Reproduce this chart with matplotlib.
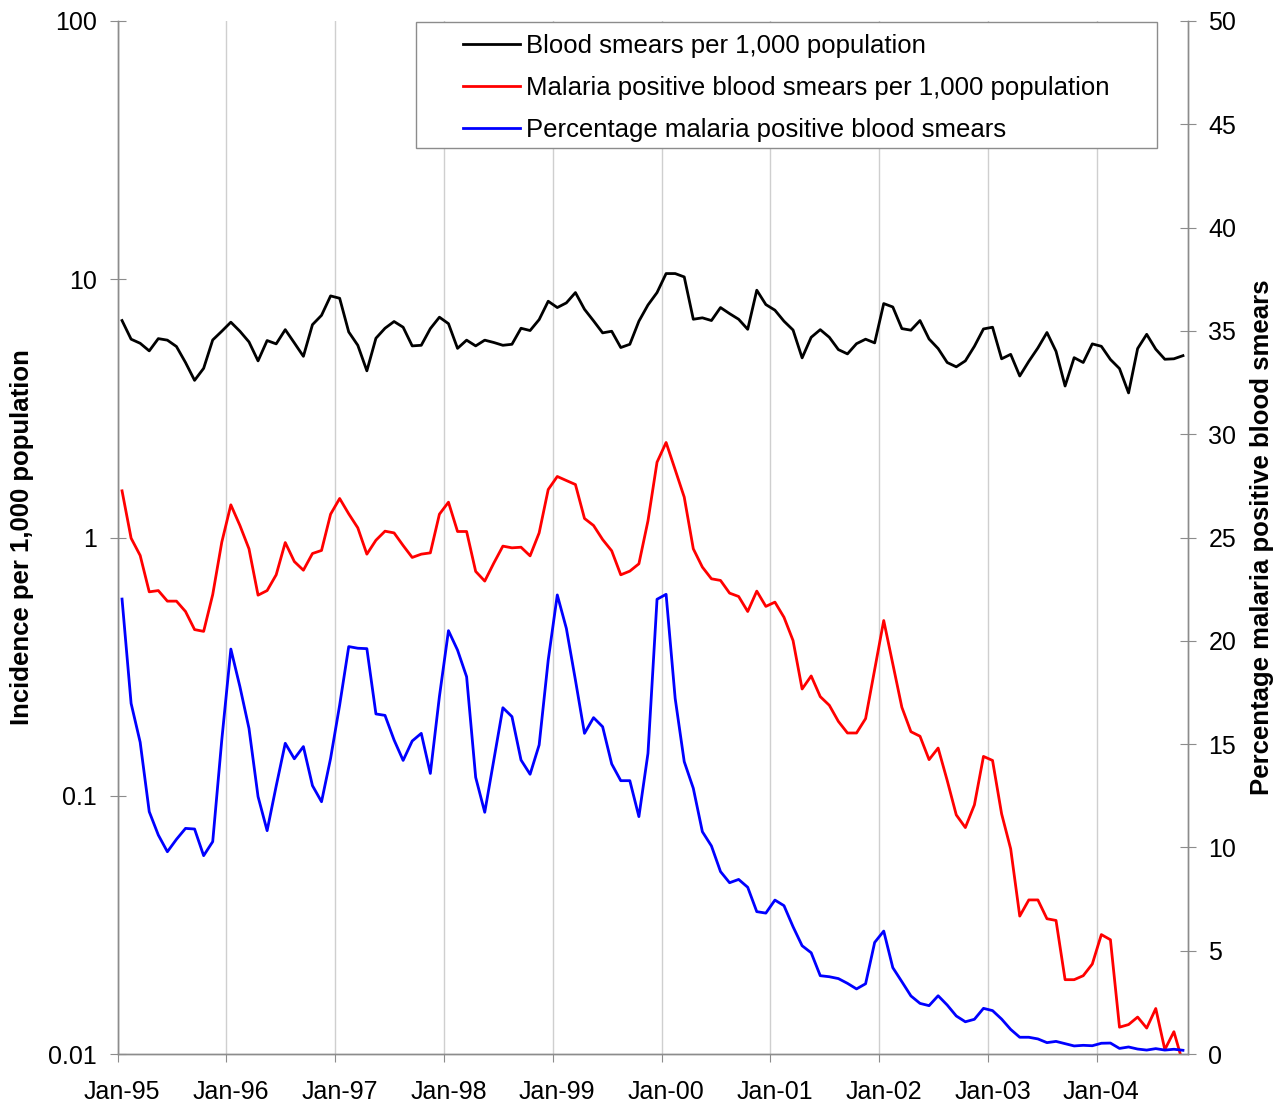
import matplotlib
matplotlib.use("Agg")
import matplotlib.pyplot as plt
import numpy as np
from matplotlib.patches import Rectangle
from matplotlib.ticker import FixedLocator, FixedFormatter, NullLocator

plt.rcParams["font.family"] = ["Liberation Sans", "DejaVu Sans"]

# monthly series, Jan-95 .. Oct-04
smears = [
    6.92, 5.86, 5.65, 5.28, 5.89, 5.81, 5.49, 4.76, 4.06, 4.52, 5.82, 6.29,
    6.82, 6.29, 5.72, 4.83, 5.79, 5.62, 6.38, 5.67, 5.03, 6.67, 7.25, 8.62,
    8.44, 6.25, 5.55, 4.42, 5.91, 6.46, 6.86, 6.52, 5.52, 5.55, 6.44, 7.13,
    6.73, 5.40, 5.81, 5.52, 5.81, 5.69, 5.55, 5.60, 6.46, 6.33, 6.98, 8.22,
    7.77, 8.10, 8.88, 7.65, 6.90, 6.20, 6.29, 5.44, 5.60, 6.88, 7.95, 8.88,
    10.52, 10.52, 10.21, 7.00, 7.09, 6.92, 7.77, 7.36, 7.00, 6.40, 9.07, 7.98,
    7.59, 6.88, 6.36, 4.96, 5.96, 6.38, 5.96, 5.34, 5.14, 5.63, 5.86, 5.67,
    8.05, 7.81, 6.44, 6.35, 6.92, 5.87, 5.39, 4.76, 4.58, 4.83, 5.50, 6.42,
    6.52, 4.92, 5.12, 4.22, 4.81, 5.42, 6.22, 5.26, 3.86, 4.97, 4.76, 5.62,
    5.50, 4.89, 4.51, 3.63, 5.39, 6.12, 5.36, 4.90, 4.92, 5.06,
]
positive = [
    1.516, 0.994, 0.852, 0.616, 0.623, 0.567, 0.567, 0.517, 0.440, 0.433, 0.601, 0.959,
    1.338, 1.113, 0.904, 0.598, 0.623, 0.717, 0.956, 0.807, 0.747, 0.867, 0.891, 1.231,
    1.416, 1.235, 1.090, 0.862, 0.976, 1.058, 1.042, 0.931, 0.837, 0.862, 0.872, 1.231,
    1.370, 1.055, 1.055, 0.739, 0.678, 0.796, 0.926, 0.912, 0.917, 0.849, 1.042, 1.534,
    1.723, 1.662, 1.604, 1.185, 1.113, 0.982, 0.888, 0.717, 0.741, 0.791, 1.16, 1.957,
    2.333, 1.83, 1.433, 0.904, 0.768, 0.692, 0.682, 0.609, 0.591, 0.517, 0.620, 0.541,
    0.562, 0.491, 0.399, 0.259, 0.291, 0.242, 0.224, 0.194, 0.175, 0.175, 0.199, 0.308,
    0.477, 0.324, 0.220, 0.177, 0.170, 0.138, 0.153, 0.1146, 0.0843, 0.0753, 0.0922, 0.142,
    0.137, 0.0851, 0.0623, 0.0342, 0.0395, 0.0395, 0.0334, 0.0329, 0.0194, 0.0194, 0.0201, 0.0223,
    0.0290, 0.0277, 0.0127, 0.0130, 0.0139, 0.0126, 0.0150, 0.0104, 0.0122, 0.0092,
]
percent = [
    22.02, 16.97, 15.09, 11.73, 10.60, 9.79, 10.39, 10.92, 10.89, 9.60, 10.28, 15.20,
    19.60, 17.78, 15.76, 12.46, 10.81, 12.97, 15.04, 14.29, 14.88, 12.99, 12.21, 14.31,
    16.89, 19.72, 19.64, 19.62, 16.46, 16.39, 15.20, 14.21, 15.15, 15.52, 13.58, 17.30,
    20.49, 19.55, 18.26, 13.39, 11.70, 14.23, 16.76, 16.33, 14.23, 13.54, 14.96, 19.07,
    22.22, 20.60, 18.10, 15.52, 16.28, 15.84, 14.04, 13.23, 13.23, 11.49, 14.55, 22.01,
    22.25, 17.21, 14.15, 12.86, 10.76, 10.07, 8.83, 8.29, 8.45, 8.07, 6.89, 6.82,
    7.45, 7.18, 6.16, 5.24, 4.90, 3.79, 3.74, 3.65, 3.42, 3.15, 3.40, 5.40,
    5.95, 4.18, 3.50, 2.81, 2.45, 2.34, 2.82, 2.37, 1.84, 1.56, 1.68, 2.21,
    2.10, 1.69, 1.19, 0.81, 0.81, 0.73, 0.55, 0.61, 0.50, 0.39, 0.42, 0.40,
    0.52, 0.53, 0.27, 0.34, 0.24, 0.19, 0.26, 0.19, 0.23, 0.18,
]
year_labels = ["Jan-95", "Jan-96", "Jan-97", "Jan-98", "Jan-99",
               "Jan-00", "Jan-01", "Jan-02", "Jan-03", "Jan-04"]
left_ticks = [0.01, 0.1, 1, 10, 100]
left_labels = ["0.01", "0.1", "1", "10", "100"]
right_ticks = list(range(0, 55, 5))

labels = [
    "Blood smears per 1,000 population",
    "Malaria positive blood smears per 1,000 population",
    "Percentage malaria positive blood smears",
]

W, H = 1276, 1103
axis_grey = "#8c8c8c"
grid_grey = "#cfcfcf"

n = len(smears)
x = np.arange(n) + 0.5  # points sit in the middle of each month

fig = plt.figure(figsize=(W / 100, H / 100), dpi=100)
ax = fig.add_axes([117.5 / W, 1 - 1054 / H, (1187.5 - 117.5) / W, (1054 - 21) / H])
ax2 = ax.twinx()

l1, = ax.plot(x, smears, color="black", lw=2.0)
l2, = ax.plot(x, positive, color="#ff0000", lw=2.0)
l3, = ax2.plot(x, percent, color="#0000ff", lw=2.0)

ax.set_yscale("log")
ax.set_ylim(0.01, 100)
ax.set_xlim(0, n)
ax2.set_ylim(0, 50)

# year gridlines + ticks at boundaries, labels centred on the January point
years = np.arange(len(year_labels)) * 12
ax.xaxis.set_major_locator(FixedLocator(years))
ax.xaxis.set_major_formatter(FixedFormatter([""] * len(years)))
ax.xaxis.set_minor_locator(FixedLocator(years + 0.5))
ax.xaxis.set_minor_formatter(FixedFormatter(year_labels))
ax.grid(True, axis="x", which="major", color=grid_grey, lw=1.0)
ax.tick_params(axis="x", which="major", direction="out", length=6, width=0.8,
               color=axis_grey)
ax.tick_params(axis="x", which="minor", length=0, pad=19, labelsize=18)

ax.yaxis.set_major_locator(FixedLocator(left_ticks))
ax.yaxis.set_major_formatter(FixedFormatter(left_labels))
ax.yaxis.set_minor_locator(NullLocator())
ax.tick_params(axis="y", direction="inout", length=11, width=0.8,
               color=axis_grey, labelsize=18, pad=9.5)

ax2.set_yticks(right_ticks)
ax2.tick_params(axis="y", direction="inout", length=11, width=0.8,
                color=axis_grey, labelsize=18, pad=9.5)

for a in (ax, ax2):
    a.spines["top"].set_visible(False)
    for s in ("left", "right", "bottom"):
        a.spines[s].set_color(axis_grey)
        a.spines[s].set_linewidth(1.0)

ax.set_ylabel("Incidence per 1,000 population", fontsize=18.5, fontweight="bold")
ax.yaxis.set_label_coords(-0.078, 0.5)
ax2.set_ylabel("Percentage malaria positive blood smears", fontsize=18.5,
               fontweight="bold", rotation=90)
ax2.yaxis.set_label_coords(1.058, 0.5)

# legend box: white filled frame drawn separately, legend without its own frame
frame = Rectangle((416 / W, 1 - 148 / H), (1157 - 416) / W, (148 - 22.5) / H,
                  transform=fig.transFigure, facecolor="white",
                  edgecolor=axis_grey, lw=1.0, zorder=4, clip_on=False)
ax2.add_patch(frame)
leg = ax2.legend([l1, l2, l3], labels, loc="upper left", frameon=False,
                 bbox_to_anchor=(463 / W, 1 - 34 / H), bbox_transform=fig.transFigure,
                 borderpad=0, borderaxespad=0, fontsize=18.5, handlelength=2.2,
                 handletextpad=0.24, labelspacing=0.7)
leg.set_zorder(5)

fig.savefig("out.png", dpi=100)
